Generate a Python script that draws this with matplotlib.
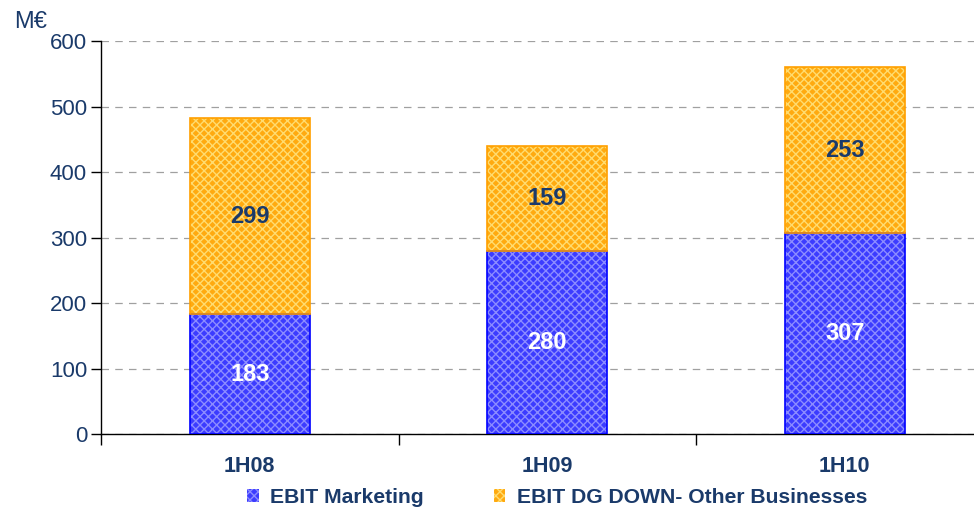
import numpy as np
import matplotlib
matplotlib.use('Agg')
import matplotlib.pyplot as plt
from matplotlib.patches import Patch

plt.rcParams['font.family'] = ['Liberation Sans', 'DejaVu Sans']
plt.rcParams['hatch.linewidth'] = 1.0

# --- data ---------------------------------------------------------------
periods = ['1H08', '1H09', '1H10']
ebit_marketing = [183, 280, 307]
ebit_other = [299, 159, 253]
series_names = ['EBIT Marketing', 'EBIT DG DOWN- Other Businesses']

NAVY = '#1a3a6a'
BLUE_FACE, BLUE_HATCH, BLUE_EDGE = '#3c3cff', '#8c8cff', '#0000ff'
ORNG_FACE, ORNG_HATCH, ORNG_EDGE = '#ffaa10', '#ffdc70', '#ffa000'

fig = plt.figure(figsize=(9.74, 5.12), dpi=100)
ax = fig.add_axes([0.1037, 0.1523, 0.8963, 0.7676])

x = np.arange(len(periods))
w = 0.403
mk = np.array(ebit_marketing)
ot = np.array(ebit_other)

# hatched fills, then a plain outline on top
ax.bar(x, mk, w, color=BLUE_FACE, edgecolor=BLUE_HATCH, hatch='xxxx', lw=0, zorder=3)
ax.bar(x, ot, w, bottom=mk, color=ORNG_FACE, edgecolor=ORNG_HATCH, hatch='xxxx', lw=0, zorder=3)
ax.bar(x, mk, w, fill=False, edgecolor=BLUE_EDGE, lw=1.2, zorder=4)
ax.bar(x, ot, w, bottom=mk, fill=False, edgecolor=ORNG_EDGE, lw=1.2, zorder=4)

for xi, a, b in zip(x, mk, ot):
    ax.text(xi, a / 2, str(a), ha='center', va='center', color='white',
            fontsize=17, fontweight='bold', zorder=5)
    ax.text(xi, a + b / 2, str(b), ha='center', va='center', color=NAVY,
            fontsize=17, fontweight='bold', zorder=5)

ax.set_ylim(0, 600)
ax.set_xlim(-0.5, 2.434)
ax.set_yticks(range(0, 601, 100))
ax.yaxis.grid(True, ls=(0, (6, 5)), color='#a0a0a0', lw=0.9)
ax.set_axisbelow(True)
ax.tick_params(axis='y', length=7, width=1, colors='black', labelcolor=NAVY,
               labelsize=16, pad=3)

# category boundaries as ticks, labels as minor ticks at bar centres
ax.set_xticks([-0.5, 0.5, 1.5])
ax.set_xticklabels([])
ax.tick_params(axis='x', which='major', length=8, width=1, direction='out')
ax.set_xticks(x, minor=True)
ax.set_xticklabels(periods, minor=True, fontsize=15.5, fontweight='bold', color=NAVY)
ax.tick_params(axis='x', which='minor', length=0, pad=16)

for s in ('top', 'right'):
    ax.spines[s].set_visible(False)
ax.spines['left'].set_linewidth(1)
ax.spines['bottom'].set_linewidth(1)

fig.text(0.014, 0.958, 'M€', color=NAVY, fontsize=17, ha='left', va='center')

handles = [Patch(facecolor=BLUE_FACE, edgecolor=BLUE_HATCH, hatch='xxxx', lw=0),
           Patch(facecolor=ORNG_FACE, edgecolor=ORNG_HATCH, hatch='xxxx', lw=0)]
leg = fig.legend(handles, series_names, loc='center', bbox_to_anchor=(0.572, 0.028),
                 ncol=2, frameon=False, handlelength=0.55, handleheight=0.6,
                 handletextpad=0.55, columnspacing=3.3,
                 prop={'size': 15.2, 'weight': 'bold'})
for t in leg.get_texts():
    t.set_color(NAVY)

fig.savefig('out.png', dpi=100)
